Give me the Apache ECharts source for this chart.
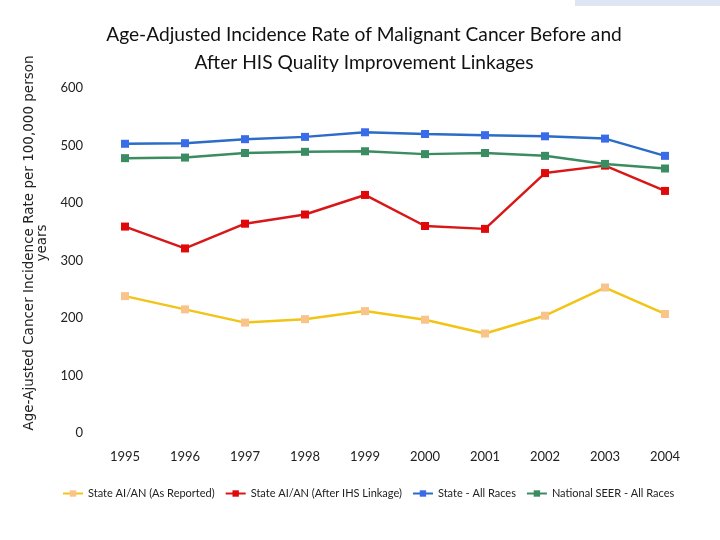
<!DOCTYPE html>
<html>
<head>
<meta charset="utf-8">
<script src="https://cdn.jsdelivr.net/npm/echarts@6/dist/echarts.min.js"></script>
<style>html,body{margin:0;padding:0;background:#fff}#c{width:720px;height:540px}</style>
</head>
<body>
<div id="c"></div>
<script>
var years = ['1995','1996','1997','1998','1999','2000','2001','2002','2003','2004'];
var asReported = [238, 215, 192, 198, 212, 197, 173, 204, 253, 207];
var afterLinkage = [359, 321, 364, 380, 414, 360, 355, 452, 465, 421];
var stateAll = [503, 504, 511, 515, 523, 520, 518, 516, 512, 482];
var seerAll = [478, 479, 487, 489, 490, 485, 487, 482, 468, 460];
var names = ['State AI/AN (As Reported)', 'State AI/AN (After IHS Linkage)', 'State - All Races', 'National SEER - All Races'];
var yName = 'Age-Ajusted Cancer Incidence Rate per 100,000 person\nyears';

var chart = echarts.init(document.getElementById('c'));
function s(name, data, lineColor, markColor) {
  return {
    name: name, type: 'line', data: data,
    symbol: 'rect', symbolSize: 8,
    lineStyle: {color: lineColor, width: 2.5},
    itemStyle: {color: markColor},
    emphasis: {disabled: true}
  };
}
chart.setOption({
  animation: false,
  backgroundColor: '#fff',
  graphic: [
    {type: 'rect', shape: {x: 575, y: 0, width: 145, height: 6}, style: {fill: '#dfe6f3'}},
    {type: 'text', x: 36, y: 243, rotation: Math.PI / 2,
     style: {text: yName, fontFamily: 'DejaVu Sans', fontSize: 13.5, fill: '#222', lineHeight: 13,
             align: 'center', verticalAlign: 'middle'}}
  ],
  title: {
    text: 'Age-Adjusted Incidence Rate of Malignant Cancer Before and\nAfter HIS Quality Improvement Linkages',
    left: 359, top: 16, textAlign: 'center',
    textStyle: {fontFamily: 'Lato', fontSize: 19.2, fontWeight: 'normal', color: '#111', lineHeight: 28, align: 'center'}
  },
  legend: {
    data: names, left: 57, top: 483,
    itemWidth: 20, itemHeight: 8, itemGap: 10,
    textStyle: {fontFamily: 'Lato', fontSize: 11, color: '#222'}
  },
  grid: {left: 125, right: 55, top: 88, bottom: 107},
  xAxis: {
    type: 'category', data: years, boundaryGap: false,
    axisLine: {show: false}, axisTick: {show: false},
    axisLabel: {margin: 17, fontFamily: 'Lato', fontSize: 13, color: '#222'}
  },
  yAxis: {
    type: 'value', min: 0, max: 600, interval: 100,
    splitLine: {show: false}, axisLine: {show: false}, axisTick: {show: false},
    axisLabel: {margin: 42, fontFamily: 'Lato', fontSize: 13, color: '#222'}
  },
  series: [
    s(names[0], asReported, '#F2C416', '#F9C38C'),
    s(names[1], afterLinkage, '#D81818', '#E00808'),
    s(names[2], stateAll, '#2A6CC8', '#3A6CEA'),
    s(names[3], seerAll, '#3C8C62', '#3A8C62')
  ]
});
</script>
</body>
</html>
